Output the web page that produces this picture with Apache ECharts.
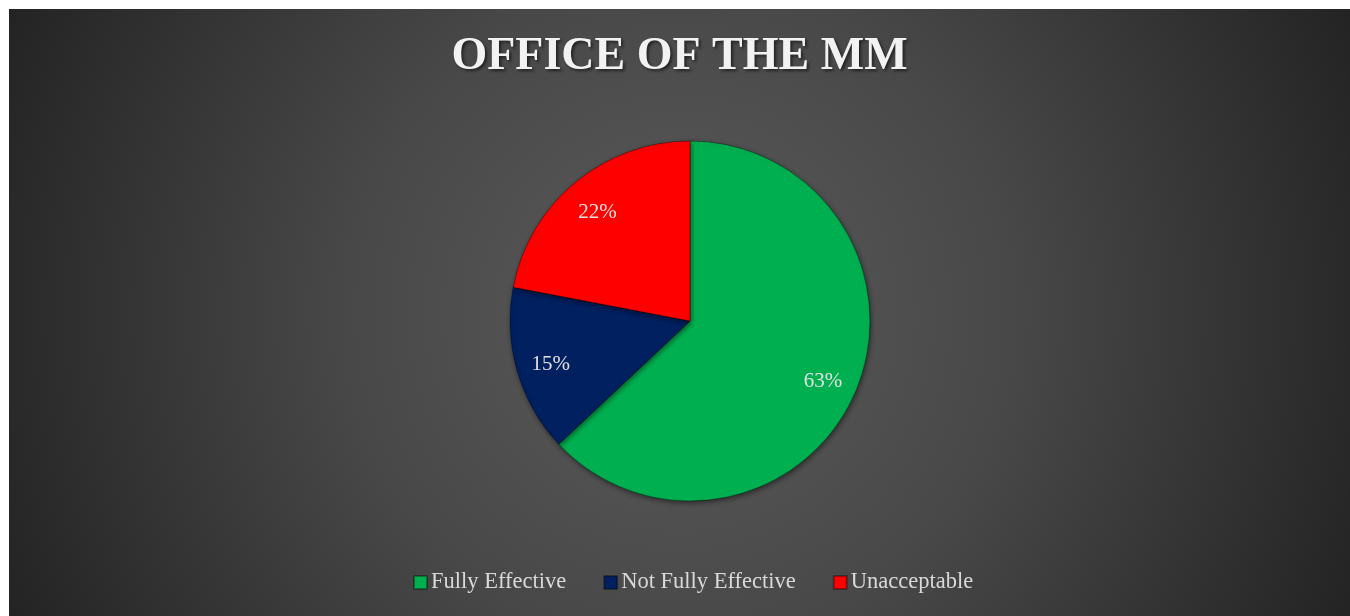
<!DOCTYPE html>
<html>
<head>
<meta charset="utf-8">
<script src="https://cdn.jsdelivr.net/npm/echarts@6/dist/echarts.min.js"></script>
<style>
  html, body { margin: 0; padding: 0; background: #ffffff; }
  #chart { position: absolute; left: 9px; top: 9px; width: 1341px; height: 607px; }
</style>
</head>
<body>
<div id="chart"></div>
<script>
const chartTitle = 'OFFICE OF THE MM';
const categories = ['Fully Effective', 'Not Fully Effective', 'Unacceptable'];
const values     = [63, 15, 22];
const colors     = ['#00B050', '#002060', '#FF0000'];

const pieData = categories.map((name, i) => ({
  name: name,
  value: values[i],
  itemStyle: { color: colors[i] }
}));

const chart = echarts.init(document.getElementById('chart'));

chart.setOption({
  backgroundColor: {
    type: 'radial',
    x: 0.5, y: 0.5, r: 1.22,
    colorStops: [
      { offset: 0,    color: '#5b5b5b' },
      { offset: 0.45, color: '#484848' },
      { offset: 1,    color: '#232323' }
    ]
  },
  title: {
    text: chartTitle,
    left: 'center',
    top: 20,
    textStyle: {
      color: '#f2f2f2',
      fontFamily: 'Liberation Serif',
      fontSize: 46,
      fontWeight: 'bold',
      textShadowColor: 'rgba(0,0,0,0.55)',
      textShadowBlur: 3,
      textShadowOffsetX: 2,
      textShadowOffsetY: 2
    }
  },
  legend: {
    data: categories,
    left: 399,
    bottom: 17,
    itemWidth: 13,
    itemHeight: 13,
    itemGap: 37,
    icon: 'rect',
    textStyle: {
      color: '#d9d9d9',
      fontFamily: 'Liberation Serif',
      fontSize: 22.5,
      padding: [0, 0, 0, -1]
    }
  },
  series: [
    {
      type: 'pie',
      center: [681, 312],
      radius: 180,
      startAngle: 90,
      clockwise: true,
      silent: true,
      label: { show: false },
      labelLine: { show: false },
      itemStyle: {
        borderColor: 'rgba(0,0,0,0.35)',
        borderWidth: 1,
        shadowColor: 'rgba(0,0,0,0.45)',
        shadowBlur: 5,
        shadowOffsetX: 1,
        shadowOffsetY: 2
      },
      data: pieData
    },
    {
      // label-only ring so the percentages sit near the rim, as in the original
      type: 'pie',
      center: [681, 312],
      radius: 284,
      startAngle: 90,
      clockwise: true,
      silent: true,
      legendHoverLink: false,
      itemStyle: { color: 'rgba(0,0,0,0)', borderWidth: 0 },
      label: {
        show: true,
        position: 'inside',
        formatter: '{d}%',
        color: '#e0e0e0',
        fontFamily: 'Liberation Serif',
        fontSize: 21,
        offset: [0, 3]
      },
      labelLine: { show: false },
      data: categories.map((name, i) => ({ name: name, value: values[i] }))
    }
  ]
});
</script>
</body>
</html>
